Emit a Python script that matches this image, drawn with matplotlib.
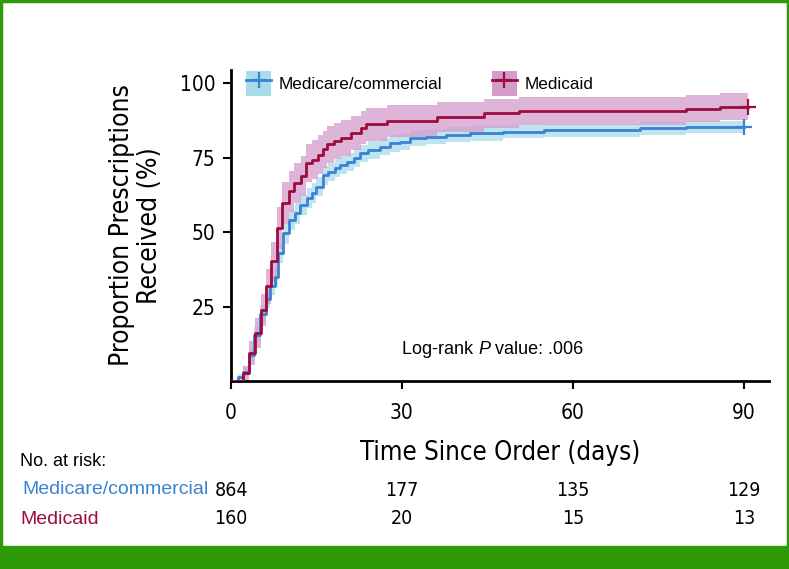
import matplotlib
matplotlib.use("Agg")
import matplotlib.pyplot as plt
import numpy as np
from matplotlib.lines import Line2D
from matplotlib.patches import Patch, Rectangle
from matplotlib import font_manager as fm
from matplotlib.transforms import offset_copy

REG = ["Liberation Sans", "DejaVu Sans"]
NARROW = dict(family="DejaVu Sans", stretch="condensed")
names = {f.name for f in fm.fontManager.ttflist}
if "Liberation Sans Narrow" in names:
    NARROW = dict(family="Liberation Sans Narrow")

BLUE = "#3b82d4"
BLUE_BAND = "#a9dcea"
RED = "#9c0c3e"
RED_BAND = "#d49ccb"
GREEN = "#2e9a08"

# Medicare/commercial: step times (days) and cumulative % received, CI half-width
mc_t = [0, 1.2, 2.1, 3.1, 4.1, 5.1, 6.1, 6.8, 7.7, 8.3, 9.2, 10.2, 11.2, 12.1, 13.3,
        14.2, 15.0, 16.2, 17.1, 18.2, 19.1, 20.3, 21.5, 22.6, 24.1, 26.1, 27.9,
        29.6, 31.4, 34.3, 37.8, 41.9, 47.8, 55.0, 71.8, 79.9, 90.0]
mc_y = [0, 1.4, 3.1, 8.8, 15.5, 22.5, 27.5, 32.0, 35.0, 42.9, 49.6, 54.1, 56.3, 59.1,
        61.4, 63.1, 65.3, 69.2, 70.3, 71.5, 72.6, 73.7, 74.8, 76.5, 77.6, 78.7, 79.9,
        80.4, 81.5, 82.1, 82.7, 83.2, 83.8, 84.3, 84.9, 85.4, 85.4]
mc_ci = [0, 1.0, 1.5, 2.0, 2.5, 3.0, 3.0, 3.2, 3.3, 3.4, 3.5, 3.5, 3.4, 3.4, 3.3,
         3.3, 3.2, 3.2, 3.1, 3.1, 3.0, 3.0, 3.0, 2.9, 2.9, 2.8, 2.8, 2.7, 2.7, 2.6,
         2.5, 2.4, 2.3, 2.2, 2.1, 2.0, 2.0]

# Medicaid
md_t = [0, 2.1, 3.1, 4.2, 5.2, 6.1, 7.1, 8.1, 9.0, 10.1, 11.0, 12.2, 13.1, 14.3,
        15.2, 16.1, 16.9, 18.1, 19.3, 21.1, 22.8, 23.7, 27.3, 36.1, 44.4, 50.6,
        79.8, 85.8, 90.8]
md_y = [0, 2.6, 9.4, 16.1, 23.9, 31.8, 40.2, 51.4, 59.8, 63.7, 66.5, 68.8, 73.3,
        74.4, 76.1, 77.8, 79.5, 80.6, 81.7, 83.4, 85.1, 86.2, 87.3, 88.6, 89.9,
        90.7, 91.5, 92.2, 92.2]
md_ci = [0, 2.5, 4.0, 5.0, 5.5, 6.0, 6.5, 7.0, 7.0, 7.0, 6.8, 6.7, 6.5, 6.5, 6.4,
         6.3, 6.2, 6.0, 6.0, 5.8, 5.6, 5.5, 5.3, 5.0, 4.9, 4.8, 4.6, 4.5, 4.5]

risk_times = [0, 30, 60, 90]
risk_mc = [864, 177, 135, 129]
risk_md = [160, 20, 15, 13]

fig = plt.figure(figsize=(7.89, 5.69), dpi=100)
ax = fig.add_axes([231 / 789, 1 - 381 / 569, (769 - 231) / 789, (381 - 70) / 569])


def km(ax, t, y, ci, color, band, z):
    t = np.asarray(t)
    y = np.asarray(y)
    ci = np.asarray(ci)
    lo = np.clip(y - ci, 0, 100)
    hi = np.clip(y + ci, 0, 100)
    ax.fill_between(t, lo, hi, step="post", color=band, alpha=0.75, lw=0, zorder=z)
    ax.step(t, y, where="post", color=color, lw=2, zorder=z + 2)
    ax.plot(t[-1], y[-1], marker="+", ms=11, mew=1.6, color=color, zorder=z + 2)


km(ax, mc_t, mc_y, mc_ci, BLUE, BLUE_BAND, 1)
km(ax, md_t, md_y, md_ci, RED, RED_BAND, 2)

ax.set_xlim(0, 94.4)
ax.set_ylim(0, 104.5)
ax.set_xticks(risk_times)
ax.set_yticks([25, 50, 75, 100])
for s in ["top", "right"]:
    ax.spines[s].set_visible(False)
for s in ["left", "bottom"]:
    ax.spines[s].set_linewidth(2)
ax.tick_params(width=1.5, length=6, labelsize=15, pad=5)
for lab in ax.get_xticklabels() + ax.get_yticklabels():
    lab.set(**NARROW)
ax.tick_params(axis="x", pad=10)

ax.set_ylabel("Proportion Prescriptions\nReceived (%)", fontsize=19, labelpad=12,
              linespacing=1.1, **NARROW)
ax.set_xlabel("Time Since Order (days)", fontsize=18.5, labelpad=12, **NARROW)

# p-value note, pieces placed one after the other
fig.canvas.draw()
r = fig.canvas.get_renderer()
t1 = ax.text(30.0, 10.5, "Log-rank ", fontsize=13, family=REG, va="center")
w1 = t1.get_window_extent(r).width
t2 = ax.text(30.0, 10.5, "P", fontsize=13, family=REG, style="italic", va="center",
             transform=offset_copy(ax.transData, fig, x=w1, units="dots"))
w2 = t2.get_window_extent(r).width
ax.text(30.0, 10.5, " value: .006", fontsize=13, family=REG, va="center",
        transform=offset_copy(ax.transData, fig, x=w1 + w2, units="dots"))

handles = [
    (Patch(facecolor=BLUE_BAND, edgecolor="none"),
     Line2D([], [], color=BLUE, lw=2, marker="+", ms=12, mew=1.6)),
    (Patch(facecolor=RED_BAND, edgecolor="none"),
     Line2D([], [], color=RED, lw=2, marker="+", ms=12, mew=1.6)),
]
ax.legend(handles, ["Medicare/commercial", "Medicaid"], ncol=2, frameon=False,
          loc="upper left", bbox_to_anchor=(0.0, 1.045),
          prop={"family": REG, "size": 12.3}, handlelength=1.45, handleheight=1.8,
          columnspacing=2.9, handletextpad=0.45)

# at-risk table
def fx(px):
    return px / 789


def fy(py):
    return 1 - py / 569


fig.text(fx(20), fy(462), "No. at risk:", fontsize=13, family=REG, va="center")
fig.text(fx(22), fy(490), "Medicare/commercial", fontsize=14, family=REG,
         color=BLUE, va="center")
fig.text(fx(20), fy(519), "Medicaid", fontsize=14, family=REG, color=RED, va="center")
for t, a, b in zip(risk_times, risk_mc, risk_md):
    xd = ax.transData.transform((t, 0))[0]
    xf = fig.transFigure.inverted().transform((xd, 0))[0]
    fig.text(xf, fy(490), str(a), fontsize=14, ha="center", va="center", **NARROW)
    fig.text(xf, fy(519), str(b), fontsize=14, ha="center", va="center", **NARROW)

# green frame and bottom band
fig.patches.append(Rectangle((0, 0), 1, 1 - 546 / 569, transform=fig.transFigure,
                             color=GREEN, zorder=0))
fig.patches.append(Rectangle((0.0015, 0.002), 0.997, 0.996, transform=fig.transFigure,
                             fill=False, edgecolor=GREEN, lw=2.5, zorder=0))

fig.savefig("out.png", dpi=100)
